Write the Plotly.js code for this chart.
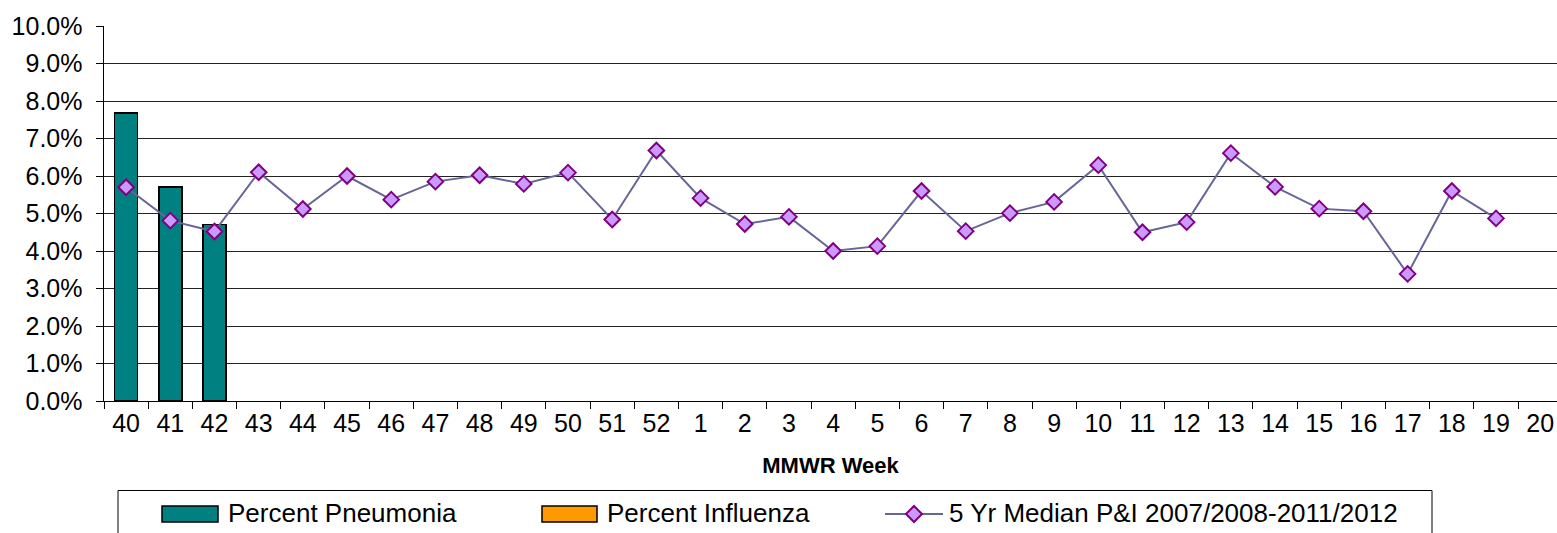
<!DOCTYPE html>
<html>
<head>
<meta charset="utf-8">
<script src="https://cdn.plot.ly/plotly-3.0.1.min.js"></script>
<style>html,body{margin:0;padding:0;background:#fff;}#chart{width:1557px;height:533px;}</style>
</head>
<body>
<div id="chart"></div>
<script>
// ---- data ----
const weeks = ["40","41","42","43","44","45","46","47","48","49","50","51","52",
  "1","2","3","4","5","6","7","8","9","10","11","12","13","14","15","16","17","18","19","20"];
const pneumonia = [7.68, 5.71, 4.71];
const influenza = [0, 0, 0];
const median5yr = [5.70, 4.81, 4.52, 6.10, 5.12, 6.00, 5.37, 5.85, 6.02, 5.79, 6.09, 4.84, 6.68,
  5.41, 4.72, 4.91, 4.00, 4.13, 5.60, 4.53, 5.01, 5.31, 6.29, 4.50, 4.77, 6.61,
  5.71, 5.13, 5.06, 3.39, 5.60, 4.87];
const seriesNames = ["Percent Pneumonia", "Percent Influenza", "5 Yr Median P&I 2007/2008-2011/2012"];
const yTicks = [0,1,2,3,4,5,6,7,8,9,10];

// ---- layout helpers ----
const W = 1557, H = 533, ML = 104, MR = 0, MT = 26, MB = 132;
const PW = W - ML - MR, PH = H - MT - MB;
const px = x => (x - ML) / PW;
const py = y => (H - MB - y) / PH;
const FONT = "Liberation Sans, Arial, sans-serif";

const traces = [
  {type: "bar", name: seriesNames[0], x: weeks.slice(0, pneumonia.length), y: pneumonia,
   marker: {color: "#008080", line: {color: "#000000", width: 1.5}}, width: 0.52, showlegend: false, hoverinfo: "skip"},
  {type: "bar", name: seriesNames[1], x: weeks.slice(0, influenza.length), y: influenza,
   marker: {color: "#FF9900", line: {color: "#000000", width: 1.5}}, width: 0.52, showlegend: false, hoverinfo: "skip"},
  {type: "scatter", mode: "lines+markers", name: seriesNames[2], x: weeks.slice(0, median5yr.length), y: median5yr,
   line: {color: "#666699", width: 2},
   marker: {symbol: "diamond", size: 12, color: "#CC99FF", line: {color: "#800080", width: 2}},
   showlegend: false, hoverinfo: "skip", cliponaxis: false}
];

// custom legend
const shapes = [
  {type: "rect", xref: "paper", yref: "paper", x0: px(118), x1: px(1432), y0: py(560), y1: py(490.5),
   line: {color: "#000", width: 1}, fillcolor: "rgba(0,0,0,0)"},
  {type: "rect", xref: "paper", yref: "paper", x0: px(162), x1: px(218), y0: py(522), y1: py(506),
   line: {color: "#000", width: 1.5}, fillcolor: "#008080"},
  {type: "rect", xref: "paper", yref: "paper", x0: px(542), x1: px(597), y0: py(522), y1: py(506),
   line: {color: "#000", width: 1.5}, fillcolor: "#FF9900"},
  {type: "line", xref: "paper", yref: "paper", x0: px(885), x1: px(943), y0: py(514), y1: py(514),
   line: {color: "#666699", width: 2}},
  {type: "path", xref: "paper", yref: "paper",
   path: `M ${px(906)},${py(514)} L ${px(914)},${py(506)} L ${px(922)},${py(514)} L ${px(914)},${py(522)} Z`,
   line: {color: "#800080", width: 2}, fillcolor: "#CC99FF"}
];
const annotations = [
  {xref: "paper", yref: "paper", x: px(226), y: py(513), text: seriesNames[0], showarrow: false, xanchor: "left", yanchor: "middle", font: {family: FONT, size: 26, color: "#000"}},
  {xref: "paper", yref: "paper", x: px(605), y: py(513), text: seriesNames[1], showarrow: false, xanchor: "left", yanchor: "middle", font: {family: FONT, size: 26, color: "#000"}},
  {xref: "paper", yref: "paper", x: px(947), y: py(513), text: seriesNames[2], showarrow: false, xanchor: "left", yanchor: "middle", font: {family: FONT, size: 26, color: "#000"}}
];

const layout = {
  width: W, height: H,
  margin: {l: ML, r: MR, t: MT, b: MB, pad: 0},
  paper_bgcolor: "#fff", plot_bgcolor: "#fff",
  barmode: "stack",
  showlegend: false,
  font: {family: FONT, size: 25, color: "#000"},
  xaxis: {
    type: "category", categoryorder: "array", categoryarray: weeks,
    tickmode: "array", tickvals: weeks, ticktext: weeks,
    range: [-0.5, 32.38],
    tickson: "boundaries", ticks: "outside", ticklen: 7, tickcolor: "#000", tickwidth: 1,
    showgrid: false, showline: true, linecolor: "#000", linewidth: 1, zeroline: false,
    tickfont: {family: FONT, size: 25, color: "#000"},
    title: {text: "MMWR Week", font: {family: FONT, size: 22, color: "#000", weight: "bold"}, standoff: 21},
    fixedrange: true
  },
  yaxis: {
    range: [0, 10], tickmode: "array", tickvals: yTicks,
    ticktext: yTicks.map(v => v.toFixed(1) + "%"),
    ticks: "outside", ticklen: 7, tickcolor: "#000", tickwidth: 1,
    showgrid: true, gridcolor: "#222", gridwidth: 1,
    showline: true, linecolor: "#000", linewidth: 1.5, zeroline: false,
    tickfont: {family: FONT, size: 25, color: "#000"},
    ticklabelstandoff: 8,
    fixedrange: true
  },
  shapes: shapes,
  annotations: annotations
};

Plotly.newPlot("chart", traces, layout, {displayModeBar: false, staticPlot: true});
</script>
</body>
</html>
